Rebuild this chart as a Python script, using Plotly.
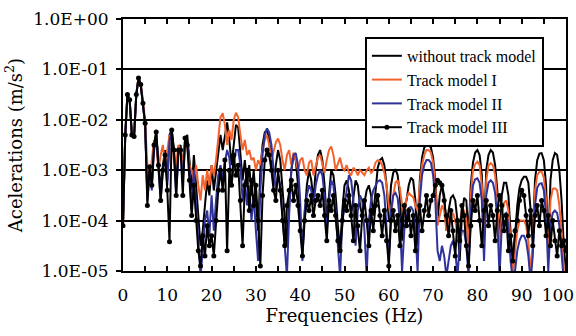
import plotly.graph_objects as go

# Frequencies (Hz), 0.5 Hz resolution
freq = [i * 0.5 for i in range(201)]

# log10 of acceleration (m/s^2)
without_track_log = [
    -4.1, -2.3, -1.5, -1.6, -2.3, -2.3, -1.5, -1.17, -1.3, -1.65, -2.1, -3.5, -2.9, -3.3, -2.5, -2.25, -2.8, -3.4, -2.9, -2.6,
    -3.2, -2.3, -2.2, -2.6, -3.3, -2.6, -2.5, -3.0, -2.4, -2.3, -2.8, -3.4, -2.7, -3.3, -3.9, -4.5, -4.2, -3.6, -3.2, -3.5,
    -2.9, -3.4, -3.0, -2.6, -2.3, -2.6, -2.3, -2.05, -2.4, -2.9, -2.5, -2.1, -2.15, -2.6, -3.2, -2.8, -3.3, -2.9, -3.5, -3.0,
    -3.6, -4.2, -3.0, -2.5, -2.25, -2.2, -2.4, -2.8, -3.3, -2.9, -2.6, -2.8, -3.4, -4.0, -4.5, -3.6, -3.0, -2.7, -2.8, -3.3,
    -3.9, -4.6, -3.9, -3.3, -3.0, -3.2, -3.6, -3.0, -2.7, -2.6, -2.8, -3.3, -4.0, -3.5, -3.0, -3.1, -3.5, -4.1, -4.6, -3.8,
    -3.3, -3.2, -3.4, -3.9, -3.5, -3.2, -3.3, -3.7, -3.9, -3.6, -3.4, -3.3, -3.5, -3.9, -3.4, -2.95, -2.8, -2.76, -2.9, -3.3,
    -4.0, -3.3, -3.05, -2.98, -3.1, -3.5, -4.4, -3.7, -3.6, -3.3, -3.15, -3.2, -3.6, -4.5, -3.2, -2.75, -2.55, -2.5, -2.5, -2.55,
    -2.75, -3.2, -4.0, -3.5, -3.3, -3.5, -4.2, -3.8, -3.55, -3.5, -3.6, -4.0, -4.8, -3.9, -3.55, -3.6, -4.3, -3.3, -2.85, -2.65,
    -2.6, -2.7, -3.1, -4.2, -3.0, -2.7, -2.6, -2.65, -2.9, -3.4, -4.5, -3.5, -3.25, -3.25, -3.5, -4.2, -5.0, -4.3, -3.7, -3.35,
    -3.2, -3.13, -3.13, -3.25, -3.7, -4.3, -3.2, -2.8, -2.67, -2.66, -2.8, -3.3, -4.5, -3.2, -2.8, -2.66, -2.7, -3.0, -3.6, -4.5,
    -5.0,
]

track_I_log = [
    -4.1, -2.3, -1.48, -1.6, -2.3, -2.3, -1.5, -1.15, -1.3, -1.6, -2.05, -2.9, -3.2, -2.8, -2.4, -2.5, -3.0, -2.7, -2.5, -2.9,
    -2.6, -2.3, -2.4, -2.8, -2.9, -2.5, -2.6, -2.9, -2.45, -2.5, -2.9, -3.0, -3.2, -2.9, -3.3, -3.6, -3.1, -3.4, -3.0, -3.3,
    -2.9, -3.1, -2.8, -2.4, -1.95, -1.87, -2.1, -2.5, -2.2, -2.4, -2.0, -1.86, -1.95, -2.3, -2.6, -2.4, -2.7, -2.6, -2.8, -2.75,
    -3.0, -2.8, -2.9, -2.6, -2.4, -2.3, -2.5, -2.8, -2.6, -2.45, -2.37, -2.5, -2.8, -3.0, -2.7, -2.6, -2.9, -2.65, -2.8, -3.0,
    -2.8, -2.75, -3.0, -3.1, -2.85, -2.8, -3.1, -2.9, -2.75, -2.7, -2.9, -3.05, -2.8, -2.6, -2.53, -2.7, -3.0, -2.85, -2.75, -2.95,
    -3.0, -2.9, -3.05, -3.1, -2.95, -3.0, -3.1, -3.0, -3.05, -3.1, -3.0, -2.95, -3.05, -3.0, -2.85, -2.8, -2.82, -2.9, -3.05, -3.3,
    -3.7, -3.95, -3.5, -3.25, -3.2, -3.35, -3.7, -3.9, -3.55, -3.45, -3.5, -3.53, -3.7, -3.8, -3.3, -2.9, -2.7, -2.6, -2.6, -2.65,
    -2.85, -3.3, -4.1, -3.9, -3.7, -3.8, -4.2, -4.0, -3.9, -3.85, -4.0, -4.3, -4.0, -3.8, -3.8, -4.0, -4.5, -3.5, -3.0, -2.88,
    -2.83, -2.9, -3.3, -4.4, -3.2, -2.9, -2.86, -2.9, -3.1, -3.6, -4.6, -3.9, -3.65, -3.6, -3.8, -4.5, -5.1, -4.6, -4.2, -4.0,
    -4.0, -4.0, -4.1, -4.4, -5.1, -4.4, -3.4, -3.1, -3.03, -3.03, -3.15, -3.6, -4.6, -3.6, -3.37, -3.36, -3.4, -3.7, -4.2, -5.0,
    -5.1,
]

track_II_log = [
    -4.1, -2.35, -1.5, -1.62, -2.3, -2.35, -1.5, -1.17, -1.3, -1.65, -2.1, -3.6, -3.0, -3.4, -2.6, -2.3, -2.9, -3.6, -3.0, -2.7,
    -3.3, -2.4, -2.25, -2.7, -3.5, -2.7, -2.6, -3.2, -2.5, -2.45, -3.0, -3.8, -3.0, -3.7, -4.4, -5.1, -4.6, -4.0, -3.8, -4.3,
    -3.5, -4.2, -3.6, -3.1, -2.9, -3.2, -2.85, -2.6, -2.75, -3.3, -2.9, -2.6, -2.6, -2.9, -3.6, -3.2, -3.7, -3.3, -4.0, -3.5,
    -4.2, -4.8, -3.4, -2.7, -2.3, -2.17, -2.25, -2.5, -3.0, -3.4, -3.1, -3.3, -3.9, -4.6, -5.1, -3.9, -3.0, -2.7, -2.66, -2.9,
    -3.6, -4.8, -3.8, -3.5, -3.3, -3.4, -3.7, -3.3, -3.1, -3.0, -3.1, -3.5, -4.2, -3.6, -3.2, -3.3, -3.8, -4.5, -5.1, -4.0,
    -3.7, -3.3, -3.1, -3.2, -3.6, -4.5, -3.8, -3.5, -3.6, -4.2, -5.1, -4.0, -3.6, -3.4, -3.3, -3.22, -3.2, -3.25, -3.5, -4.2,
    -4.8, -3.8, -3.5, -3.45, -3.55, -4.0, -5.0, -4.2, -3.9, -3.75, -3.73, -3.8, -4.2, -5.0, -3.6, -3.1, -2.9, -2.8, -2.8, -2.85,
    -3.1, -3.6, -4.6, -4.8, -4.5, -4.7, -5.1, -4.8, -4.5, -4.4, -4.6, -5.1, -4.5, -4.2, -4.2, -4.5, -5.1, -3.8, -3.3, -3.18,
    -3.16, -3.25, -3.6, -4.8, -3.5, -3.25, -3.2, -3.25, -3.45, -4.0, -5.1, -4.1, -3.88, -3.85, -4.1, -4.8, -5.2, -5.0, -4.6, -4.4,
    -4.3, -4.3, -4.4, -4.7, -5.2, -4.7, -3.7, -3.35, -3.27, -3.26, -3.4, -3.9, -5.0, -4.1, -3.85, -3.8, -3.85, -4.1, -4.6, -5.2,
    -5.2,
]

track_III_log = [
    -4.1, -2.3, -1.5, -1.6, -2.3, -2.33, -1.5, -1.17, -1.3, -1.67, -2.07, -3.7, -2.93, -3.3, -2.5, -2.24, -2.9, -3.6, -3.0, -2.7,
    -3.4, -4.42, -2.2, -2.6, -3.5, -2.6, -2.6, -3.5, -2.36, -2.5, -3.2, -3.9, -3.3, -4.0, -4.6, -4.9, -4.3, -4.7, -4.1, -4.5,
    -4.3, -4.7, -4.0, -3.4, -3.0, -3.4, -2.8, -4.6, -3.0, -3.3, -2.7, -3.1, -2.9, -3.6, -4.5, -3.3, -3.0, -3.8, -3.2, -3.7,
    -3.3, -4.0, -4.9, -3.5, -2.8, -2.6, -2.7, -3.0, -3.4, -3.6, -3.0, -3.4, -4.0, -4.5, -3.7, -3.4, -3.2, -3.6, -3.3, -3.7,
    -4.2, -4.7, -4.0, -3.6, -3.8, -3.5, -3.9, -3.6, -3.5, -3.7, -3.4, -3.9, -4.4, -3.6, -3.8, -3.5, -3.9, -4.4, -4.6, -4.0,
    -3.6, -3.8, -3.5, -3.9, -4.4, -3.7, -4.1, -4.6, -3.9, -3.6, -4.0, -4.5, -3.8, -4.2, -3.7, -3.5, -3.9, -4.3, -3.8, -4.4,
    -4.9, -4.0, -3.8, -4.2, -3.9, -4.5, -4.0, -3.7, -4.1, -3.8, -4.3, -3.9, -4.6, -4.0, -3.7, -4.2, -3.8, -3.5, -3.9, -3.6,
    -3.5, -3.3, -3.2, -3.25, -3.3, -3.6, -3.9, -4.3, -3.8, -4.2, -4.7, -4.0, -4.4, -3.7, -3.9, -4.5, -4.9, -4.1, -3.6, -3.8,
    -3.5, -4.0, -4.5, -3.8, -3.6, -4.1, -3.7, -3.9, -4.4, -3.8, -3.5, -3.7, -4.2, -3.9, -4.6, -4.3, -4.8, -4.2, -4.0, -3.6,
    -3.4, -3.5, -3.9, -4.3, -3.8, -4.5, -3.9, -3.7, -4.1, -3.6, -3.8, -4.3, -3.9, -4.5, -4.0, -4.4, -4.7, -4.2, -4.5, -4.4,
    -4.6,
]

series_names = ["without track model", "Track model I", "Track model II", "Track model III"]
y_tick_vals = [1e-5, 1e-4, 1e-3, 1e-2, 1e-1, 1e0]
y_tick_text = ["1.0E-05", "1.0E-04", "1.0E-03", "1.0E-02", "1.0E-01", "1.0E+00"]
x_tick_vals = [0, 10, 20, 30, 40, 50, 60, 70, 80, 90, 100]
x_tick_text = ["0", "10", "20", "30", "40", "50", "60", "70", "80", "90", "100\u00a0\u00a0\u00a0"]

def to_lin(vals):
    return [10 ** v for v in vals]

SERIF = "Liberation Serif"
AXFONT = "DejaVu Serif"

fig = go.Figure()
fig.add_trace(go.Scatter(x=freq, y=to_lin(without_track_log), name=series_names[0], mode="lines",
                         line=dict(color="#000000", width=2)))
fig.add_trace(go.Scatter(x=freq, y=to_lin(track_I_log), name=series_names[1], mode="lines",
                         line=dict(color="#F4622E", width=2)))
fig.add_trace(go.Scatter(x=freq, y=to_lin(track_II_log), name=series_names[2], mode="lines",
                         line=dict(color="#30339A", width=2)))
fig.add_trace(go.Scatter(x=freq, y=to_lin(track_III_log), name=series_names[3], mode="lines+markers",
                         line=dict(color="#000000", width=2),
                         marker=dict(color="#000000", size=5, symbol="circle")))

fig.update_layout(
    template="none",
    width=576, height=336,
    margin=dict(l=123, r=10, t=19, b=65, autoexpand=False),
    paper_bgcolor="white", plot_bgcolor="white",
    font=dict(family=AXFONT, size=16, color="black"),
    showlegend=True,
    legend=dict(x=0.546, y=0.929, xanchor="left", yanchor="top",
                bgcolor="white", bordercolor="black", borderwidth=2,
                font=dict(family=SERIF, size=16, color="black"),
                tracegroupgap=0),
    xaxis=dict(range=[0, 100], tickmode="array", tickvals=x_tick_vals, ticktext=x_tick_text,
               ticks="inside", ticklen=5, tickwidth=2, tickcolor="black",
               minor=dict(ticks="inside", tick0=0, dtick=5, ticklen=5, tickwidth=2, tickcolor="black"),
               showline=True, linecolor="black", linewidth=2, mirror="ticks",
               showgrid=False, zeroline=False, ticklabelstandoff=8, ticklabeloverflow="allow",
               automargin=False,
               title=dict(text="Frequencies (Hz)", font=dict(family=AXFONT, size=18, color="black"), standoff=4),
               tickfont=dict(family=AXFONT, size=17, color="black")),
    yaxis=dict(type="log", range=[-5, 0], tickmode="array", tickvals=y_tick_vals, ticktext=y_tick_text,
               ticks="outside", ticklen=5, tickwidth=2, tickcolor="black",
               showline=True, linecolor="black", linewidth=2, mirror=True,
               showgrid=True, gridcolor="black", gridwidth=2, zeroline=False,
               ticklabelstandoff=4, automargin=False,
               title=dict(text="Acelerations (m/s<sup>2</sup>)", font=dict(family=AXFONT, size=18, color="black"), standoff=6),
               tickfont=dict(family=AXFONT, size=17, color="black")),
)

fig.write_html("out.html")
